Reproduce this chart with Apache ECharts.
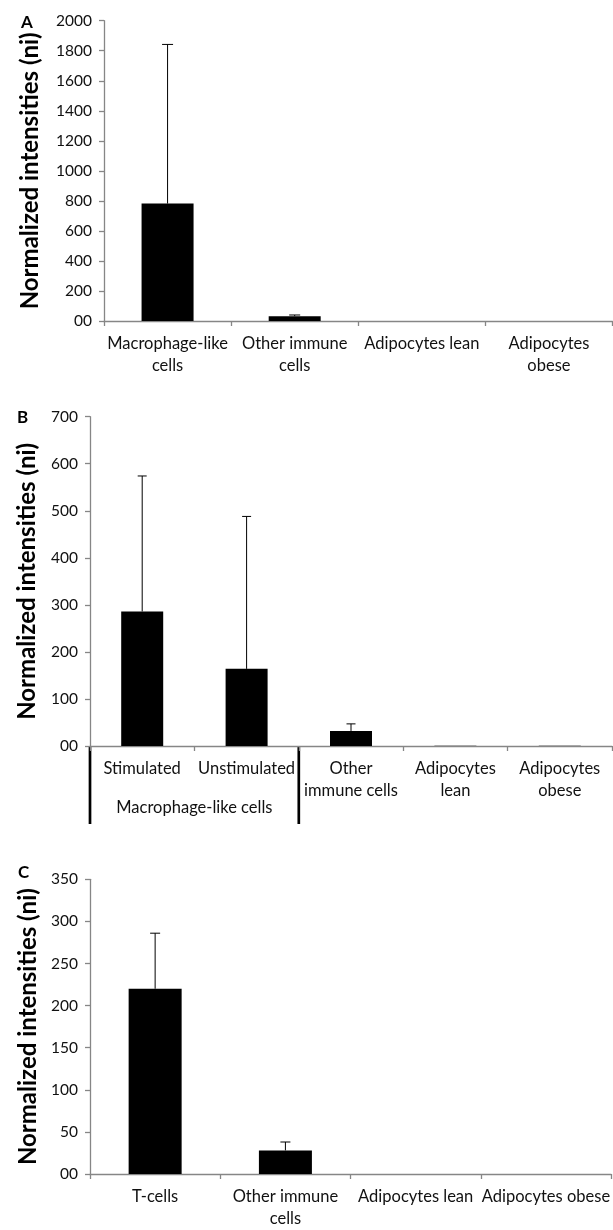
<!DOCTYPE html>
<html>
<head>
<meta charset="utf-8">
<script src="https://cdn.jsdelivr.net/npm/echarts@6/dist/echarts.min.js"></script>
<style>
html,body{margin:0;padding:0;background:#fff;}
#c{width:613px;height:1230px;}
</style>
</head>
<body>
<div id="c"></div>
<script>
// ---- data ----
const catsA = ['Macrophage-like\ncells', 'Other immune\ncells', 'Adipocytes lean', 'Adipocytes\nobese'];
const valsA = [782, 32, 0, 0];
const sdA   = [1060, 8, 0, 0];

const catsB = ['Stimulated', 'Unstimulated', 'Other\nimmune cells', 'Adipocytes\nlean', 'Adipocytes\nobese'];
const valsB = [286, 164, 32, 0.5, 0.5];
const sdB   = [288, 324, 15, 0, 0];
const groupB = 'Macrophage-like cells';

const catsC = ['T-cells', 'Other immune\ncells', 'Adipocytes lean', 'Adipocytes obese'];
const valsC = [220, 28, 0, 0];
const sdC   = [66, 10, 0, 0];

const ticksA = {min: 0, max: 2000, interval: 200};
const ticksB = {min: 0, max: 700, interval: 100};
const ticksC = {min: 0, max: 350, interval: 50};

const yTitle = 'Normalized intensities (ni)';
const panels = ['A', 'B', 'C'];

// ---- layout ----
const FONT = 'Lato, "Open Sans", sans-serif';
const AXC = '#868686';
const XFS = 16.5;
const grids = [
  {left: 104, top: 20.7, width: 508.5, height: 300.3},
  {left: 90, top: 416.7, width: 522, height: 329.3},
  {left: 90, top: 879.3, width: 522, height: 300}
];

function xAx(i, cats) {
  return {
    type: 'category', gridIndex: i, data: cats,
    axisLine: {lineStyle: {color: AXC, width: 1.3}},
    axisTick: {show: true, length: 5, lineStyle: {color: AXC, width: 1.3}},
    axisLabel: {interval: 0, color: '#111', fontFamily: FONT, fontSize: XFS, lineHeight: 22, margin: 12}
  };
}
function yAx(i, t, gap) {
  return {
    type: 'value', gridIndex: i, min: t.min, max: t.max, interval: t.interval,
    splitLine: {show: false},
    axisLine: {show: true, lineStyle: {color: AXC, width: 1.3}},
    axisTick: {show: true, length: 5, lineStyle: {color: AXC, width: 1.3}},
    axisLabel: {color: '#111', fontFamily: FONT, fontSize: 15.5, margin: 12,
      formatter: v => v === 0 ? '00' : String(v)},
    name: yTitle, nameLocation: 'middle', nameRotate: 90, nameGap: gap,
    nameTextStyle: {fontFamily: FONT, fontWeight: 'bold', fontSize: 24, color: '#000'}
  };
}
function bars(i, vals, w) {
  return {
    type: 'bar', xAxisIndex: i, yAxisIndex: i, data: vals, barWidth: w,
    itemStyle: {color: '#000'}, silent: true, animation: false
  };
}
function errs(i, vals, sds, half) {
  const d = vals.map((v, k) => [k, v, v + sds[k], sds[k]]);
  return {
    type: 'custom', xAxisIndex: i, yAxisIndex: i, data: d, animation: false, silent: true,
    renderItem: function (params, api) {
      if (api.value(3) <= 0) return null;
      const b = api.coord([api.value(0), api.value(1)]);
      const t = api.coord([api.value(0), api.value(2)]);
      const st = {stroke: '#000', lineWidth: 1};
      return {type: 'group', children: [
        {type: 'line', shape: {x1: b[0], y1: b[1], x2: t[0], y2: t[1]}, style: st},
        {type: 'line', shape: {x1: t[0] - half, y1: t[1], x2: t[0] + half, y2: t[1]}, style: st}
      ]};
    }
  };
}

// group label / separators for panel B derived from grid B layout
const gB = grids[1];
const bandB = gB.width / catsB.length;
const sepX = gB.left + 2 * bandB;
const axisYB = gB.top + gB.height;

const option = {
  animation: false,
  backgroundColor: '#fff',
  grid: grids.map(g => Object.assign({containLabel: false}, g)),
  xAxis: [xAx(0, catsA), xAx(1, catsB), xAx(2, catsC)],
  yAxis: [yAx(0, ticksA, 62), yAx(1, ticksB, 51), yAx(2, ticksC, 49)],
  series: [
    bars(0, valsA, 52), errs(0, valsA, sdA, 5.5),
    bars(1, valsB, 42), errs(1, valsB, sdB, 4.5),
    bars(2, valsC, 53), errs(2, valsC, sdC, 5)
  ],
  graphic: [
    {type: 'text', x: 27, y: 23, style: {text: panels[0], font: 'bold 17px ' + FONT, fill: '#000', align: 'center', verticalAlign: 'middle'}},
    {type: 'text', x: 22.5, y: 417.5, style: {text: panels[1], font: 'bold 17px ' + FONT, fill: '#000', align: 'center', verticalAlign: 'middle'}},
    {type: 'text', x: 23.5, y: 873, style: {text: panels[2], font: 'bold 17px ' + FONT, fill: '#000', align: 'center', verticalAlign: 'middle'}},
    {type: 'line', shape: {x1: gB.left, y1: axisYB, x2: gB.left, y2: axisYB + 78}, style: {stroke: '#000', lineWidth: 2.7}},
    {type: 'line', shape: {x1: sepX, y1: axisYB, x2: sepX, y2: axisYB + 78}, style: {stroke: '#000', lineWidth: 2.7}},
    {type: 'text', x: gB.left + bandB, y: axisYB + 62, style: {text: groupB, font: XFS + 'px ' + FONT, fill: '#111', align: 'center', verticalAlign: 'middle'}}
  ]
};

const chart = echarts.init(document.getElementById('c'), null, {renderer: 'canvas'});
chart.setOption(option);
</script>
</body>
</html>
